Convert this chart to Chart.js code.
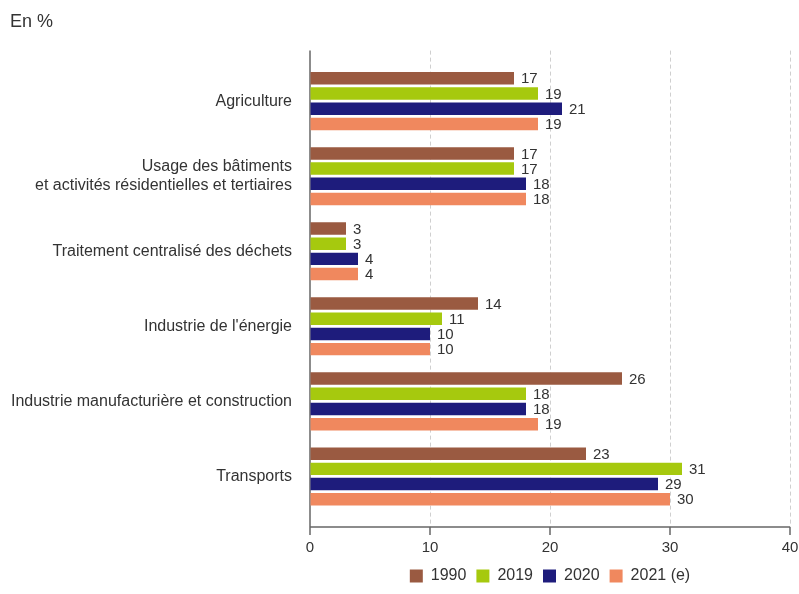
<!DOCTYPE html>
<html>
<head>
<meta charset="utf-8">
<script src="https://cdn.jsdelivr.net/npm/chart.js@4/dist/chart.umd.min.js"></script>
<style>
html,body{margin:0;padding:0;background:#fff;}
#wrap{width:799px;height:594px;position:relative;}
</style>
</head>
<body>
<div id="wrap"><canvas id="c" width="799" height="594"></canvas></div>
<script>
const categories = [
  "Agriculture",
  ["Usage des bâtiments", "et activités résidentielles et tertiaires"],
  "Traitement centralisé des déchets",
  "Industrie de l'énergie",
  "Industrie manufacturière et construction",
  "Transports"
];
const seriesNames = ["1990", "2019", "2020", "2021 (e)"];
const values1990 = [17, 17, 3, 14, 26, 23];
const values2019 = [19, 17, 3, 11, 18, 31];
const values2020 = [21, 18, 4, 10, 18, 29];
const values2021 = [19, 18, 4, 10, 19, 30];
const xTicks = [0, 10, 20, 30, 40];
const colors = ["#9A5A41", "#A6C90E", "#1E1C7C", "#F0885E"];

const FONT = "'Liberation Sans', Arial, Helvetica, sans-serif";
const TEXT = "#333333";

const decorPlugin = {
  id: 'decor',
  beforeDatasetsDraw(chart) {
    const ctx = chart.ctx, a = chart.chartArea, xs = chart.scales.x;
    const top = a.top - 13, bottom = a.bottom + 13;
    ctx.save();
    ctx.strokeStyle = '#cfcfcf';
    ctx.lineWidth = 1;
    ctx.setLineDash([4, 3]);
    xTicks.forEach(v => {
      if (v === 0) return;
      const x = Math.round(xs.getPixelForValue(v)) + 0.5;
      ctx.beginPath(); ctx.moveTo(x, top); ctx.lineTo(x, bottom); ctx.stroke();
    });
    ctx.setLineDash([]);
    ctx.strokeStyle = '#666666';
    ctx.lineWidth = 1.5;
    const x0 = xs.getPixelForValue(0);
    ctx.beginPath(); ctx.moveTo(x0, top); ctx.lineTo(x0, bottom); ctx.stroke();
    ctx.beginPath(); ctx.moveTo(x0, bottom); ctx.lineTo(xs.getPixelForValue(40), bottom); ctx.stroke();
    xTicks.forEach(v => {
      const x = xs.getPixelForValue(v);
      ctx.beginPath(); ctx.moveTo(x, bottom); ctx.lineTo(x, bottom + 8); ctx.stroke();
    });
    ctx.restore();
  },
  afterDatasetsDraw(chart) {
    const ctx = chart.ctx;
    ctx.save();
    ctx.font = "15px " + FONT;
    ctx.fillStyle = TEXT;
    ctx.textAlign = 'left';
    ctx.textBaseline = 'middle';
    chart.data.datasets.forEach((ds, i) => {
      const meta = chart.getDatasetMeta(i);
      meta.data.forEach((bar, j) => {
        ctx.fillText(String(ds.data[j]), bar.x + 7, bar.y + 1);
      });
    });
    ctx.restore();
  }
};

new Chart(document.getElementById('c'), {
  type: 'bar',
  data: {
    labels: categories,
    datasets: [values1990, values2019, values2020, values2021].map((d, i) => ({
      label: seriesNames[i],
      data: d,
      backgroundColor: colors[i],
      borderWidth: 0,
      categoryPercentage: 0.81,
      barPercentage: 0.82
    }))
  },
  options: {
    indexAxis: 'y',
    responsive: false,
    animation: false,
    layout: { padding: { left: 10, right: 9, top: 0, bottom: 0 } },
    scales: {
      x: {
        min: 0, max: 40,
        ticks: { stepSize: 10, color: TEXT, font: { family: FONT, size: 15 }, padding: 5 },
        grid: { drawOnChartArea: false, tickLength: 20, tickColor: 'rgba(0,0,0,0)' },
        border: { display: false },
        afterFit(s) { s.height = 44; s.paddingLeft = 0; s.paddingRight = 0; }
      },
      y: {
        ticks: { color: TEXT, font: { family: FONT, size: 16 }, padding: 18 },
        grid: { display: false, drawTicks: false },
        border: { display: false },
        afterFit(s) { s.width = 300; }
      }
    },
    plugins: {
      title: {
        display: true, text: 'En %', align: 'start', color: TEXT,
        font: { family: FONT, size: 18, weight: 'normal' },
        padding: { top: 11, bottom: 31 }
      },
      legend: {
        position: 'bottom', fullSize: false,
        labels: { boxWidth: 13, boxHeight: 13, color: TEXT, padding: 10, font: { family: FONT, size: 16 } }
      },
      tooltip: { enabled: false }
    }
  },
  plugins: [decorPlugin]
});
</script>
</body>
</html>
